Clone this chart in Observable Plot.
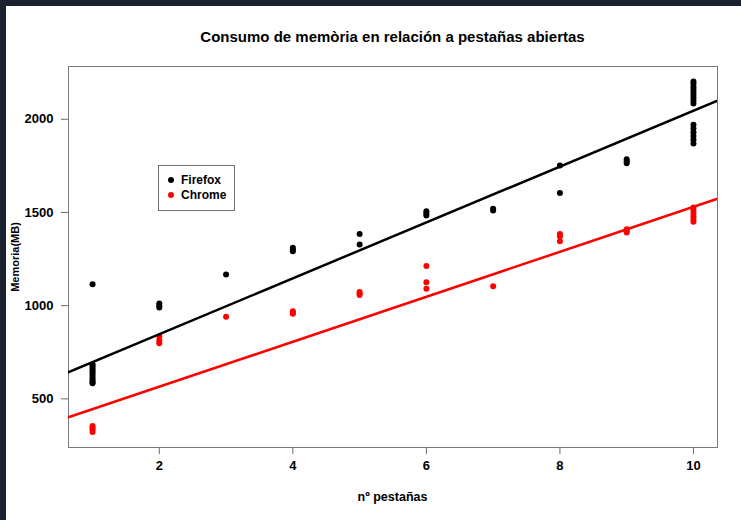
<!DOCTYPE html>
<html>
<head>
<meta charset="utf-8">
<script src="https://cdn.jsdelivr.net/npm/d3@7"></script>
<script src="https://cdn.jsdelivr.net/npm/@observablehq/plot@0.6"></script>
<style>
  html, body { margin: 0; padding: 0; background: #1c2130; width: 741px; height: 520px; overflow: hidden; }
  #page { position: absolute; left: 6px; top: 6px; width: 735px; height: 514px; background: #fff; }
  .lbl { position: absolute; font-family: "Liberation Sans", Arial, sans-serif; font-weight: bold; color: #000; white-space: nowrap; }
</style>
</head>
<body>
<div id="page"></div>
<script>
// ---- data ----
const title = "Consumo de memòria en relación a pestañas abiertas";
const xLabel = "nº pestañas";
const yLabel = "Memoria(MB)";
const seriesNames = ["Firefox", "Chrome"];
const seriesColors = ["#000000", "#ff0000"];

const firefoxTabs = [1,1,1,1,1,1,1,1,1,1,1,1, 2,2,2, 3, 4,4,4, 5,5, 6,6,6, 7,7, 8,8, 9,9,9,
  10,10,10,10,10,10,10,10,10,10,10,10,10,10,10];
const firefoxMem = [1115,686,676,665,655,645,635,622,610,598,590,584, 1011,1000,990, 1167, 1310,1300,1292,
  1385,1328, 1506,1495,1483, 1520,1510, 1752,1605, 1785,1775,1764,
  2202,2190,2175,2160,2145,2130,2115,2100,2085,1971,1950,1930,1910,1890,1870];

const chromeTabs = [1,1,1,1, 2,2,2, 3, 4,4,4, 5,5,5, 6,6,6, 7, 8,8,8, 9,9,9, 10,10,10,10,10,10];
const chromeMem = [355,345,335,322, 836,815,798, 940, 970,962,956, 1073,1065,1057, 1213,1125,1090, 1104,
  1385,1372,1345, 1410,1400,1392, 1526,1510,1495,1480,1465,1450];

// fitted regression lines (intercept, slope) as shown in the chart
const fitIntercept = [547, 324];
const fitSlope = [149.9, 120.6];

const xTicks = [2, 4, 6, 8, 10];
const yTicks = [500, 1000, 1500, 2000];
const xDomain = [0.64, 10.36];
const yDomain = [239, 2283];

// ---- build tables ----
const points = [
  ...firefoxTabs.map((t, i) => ({tabs: t, mem: firefoxMem[i], series: seriesNames[0]})),
  ...chromeTabs.map((t, i) => ({tabs: t, mem: chromeMem[i], series: seriesNames[1]}))
];
const fitLines = seriesNames.flatMap((s, k) =>
  [0, 11].map(x => ({tabs: x, mem: fitIntercept[k] + fitSlope[k] * x, series: s})));

const colorOf = s => seriesColors[seriesNames.indexOf(s)];

const chart = Plot.plot({
  width: 735,
  height: 514,
  marginLeft: 62,
  marginRight: 24,
  marginTop: 60,
  marginBottom: 73,
  x: {domain: xDomain},
  y: {domain: yDomain},
  style: {fontFamily: "'Liberation Sans', Arial, sans-serif", fontWeight: "bold", fontSize: "13px", color: "#000", background: "#fff", overflow: "visible"},
  marks: [
    Plot.frame({stroke: "#7a7a7a", strokeWidth: 1}),
    Plot.axisX({ticks: xTicks, tickSize: 7, tickPadding: 6, label: null, stroke: "#6a6a6a", fill: "#000", tickFormat: d => String(d)}),
    Plot.axisY({ticks: yTicks, tickSize: 7, tickPadding: 8, label: null, stroke: "#6a6a6a", fill: "#000", tickFormat: d => String(d)}),
    Plot.dot(points, {x: "tabs", y: "mem", r: 3, fill: d => colorOf(d.series), stroke: "none"}),
    Plot.line(fitLines, {x: "tabs", y: "mem", z: "series", stroke: d => colorOf(d.series), strokeWidth: 2.5, clip: true})
  ]
});
chart.style.position = "absolute";
chart.style.left = "0px";
chart.style.top = "0px";
const page = document.getElementById("page");
page.appendChild(chart);

function addLabel(text, css) {
  const d = document.createElement("div");
  d.className = "lbl";
  d.textContent = text;
  Object.assign(d.style, css);
  page.appendChild(d);
  return d;
}
// title (page coords minus 6 offset)
addLabel(title, {left: "0px", width: "773px", textAlign: "center", top: "22px", fontSize: "15px", lineHeight: "18px"});
// x label
addLabel(xLabel, {left: "0px", width: "773px", textAlign: "center", top: "484px", fontSize: "12.5px", lineHeight: "14px"});
// y label rotated
addLabel(yLabel, {left: "9px", top: "251px", fontSize: "11px", lineHeight: "12px", transform: "translate(-50%,-50%) rotate(-90deg)", transformOrigin: "center"});

// legend
const legend = document.createElement("div");
Object.assign(legend.style, {position: "absolute", left: "152px", top: "159px", width: "77px", height: "46px",
  border: "1.5px solid #6f6f6f", background: "#fff", boxSizing: "border-box"});
page.appendChild(legend);
seriesNames.forEach((s, i) => {
  const dot = document.createElement("div");
  Object.assign(dot.style, {position: "absolute", left: "9px", top: (11 + i * 15) + "px", width: "6px", height: "6px",
    borderRadius: "50%", background: seriesColors[i]});
  legend.appendChild(dot);
  const t = document.createElement("div");
  t.className = "lbl";
  t.textContent = s;
  Object.assign(t.style, {left: "22px", top: (7 + i * 15) + "px", fontSize: "12px", lineHeight: "14px"});
  legend.appendChild(t);
});
</script>
</body>
</html>
